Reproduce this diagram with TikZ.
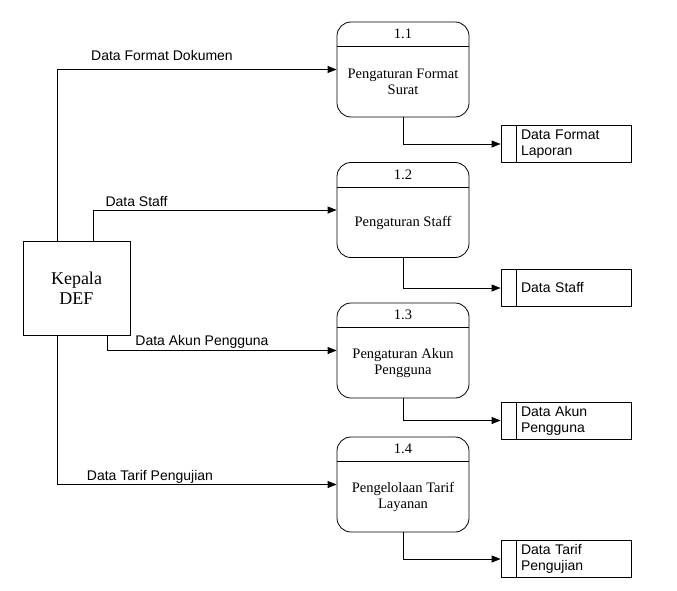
\documentclass[tikz,border=0pt]{standalone}
\usepackage{fontspec}
\setmainfont{Liberation Serif}
\setsansfont{Liberation Sans}
\usetikzlibrary{arrows.meta, positioning}
\tikzstyle{process} = [
    rectangle,
    rounded corners=14pt,
    minimum width=132pt,
    minimum height=95pt,
    line width=0.8pt,
    draw=black
]
\tikzstyle{entity} = [
    rectangle,
    minimum width=107pt,
    minimum height=94pt,
    align=center,
    font=\fontsize{18}{20}\selectfont,
    line width=0.8pt,
    draw=black
]
\tikzstyle{store} = [
    rectangle,
    minimum height=37pt,
    inner xsep=20pt,
    text width=90pt,
    align=left,
    font=\sffamily\fontsize{14}{16}\selectfont,
    line width=0.8pt,
    draw=black
]
\tikzstyle{ptext} = [align=center, font=\fontsize{14.5}{15.5}\selectfont]
\tikzstyle{flowlabel} = [font=\sffamily\fontsize{14}{16}\selectfont]
\tikzstyle{divider} = [line width=0.8pt]
\tikzstyle{arrow} = [line width=0.8pt, ->, >={Triangle[length=9pt,width=7pt]}]

\begin{document}
\begin{tikzpicture}[x=1pt, y=-1pt]
\useasboundingbox (0,0) rectangle (677,591);

\node (kepala) [entity] at (76.5,288) {Kepala\\DEF};

% processes
\node (p1) [process] at (403,69.5) {};
\node (p2) [process] at (403,210) {};
\node (p3) [process] at (403,350.5) {};
\node (p4) [process] at (403,484.5) {};

\draw [divider] ([yshift=-25pt]p1.north west) -- ([yshift=-25pt]p1.north east);
\draw [divider] ([yshift=-25pt]p2.north west) -- ([yshift=-25pt]p2.north east);
\draw [divider] ([yshift=-25pt]p3.north west) -- ([yshift=-25pt]p3.north east);
\draw [divider] ([yshift=-25pt]p4.north west) -- ([yshift=-25pt]p4.north east);

\node (n1) [ptext] at ([yshift=-12.5pt]p1.north) {1.1};
\node (n2) [ptext] at ([yshift=-12.5pt]p2.north) {1.2};
\node (n3) [ptext] at ([yshift=-12.5pt]p3.north) {1.3};
\node (n4) [ptext] at ([yshift=-12.5pt]p4.north) {1.4};

\node (t1) [ptext] at ([yshift=-12.5pt]p1.center) {Pengaturan Format\\Surat};
\node (t2) [ptext] at ([yshift=-12.5pt]p2.center) {Pengaturan Staff};
\node (t3) [ptext] at ([yshift=-12.5pt]p3.center) {Pengaturan Akun\\Pengguna};
\node (t4) [ptext] at ([yshift=-12.5pt]p4.center) {Pengelolaan Tarif\\Layanan};

% data stores
\node (s1) [store] at (566,144) {Data Format\\Laporan};
\node (s2) [store] at (566,288) {Data Staff};
\node (s3) [store] at (566,420.5) {Data Akun\\Pengguna};
\node (s4) [store] at (566,559) {Data Tarif\\Pengujian};

\draw [divider] ([xshift=16pt]s1.north west) -- ([xshift=16pt]s1.south west);
\draw [divider] ([xshift=16pt]s2.north west) -- ([xshift=16pt]s2.south west);
\draw [divider] ([xshift=16pt]s3.north west) -- ([xshift=16pt]s3.south west);
\draw [divider] ([xshift=16pt]s4.north west) -- ([xshift=16pt]s4.south west);

% flows from Kepala DEF
\draw [arrow] ([xshift=-19.5pt]kepala.north) |- (p1.west);
\draw [arrow] ([xshift=16.5pt]kepala.north) |- (p2.west);
\draw [arrow] ([xshift=30.5pt]kepala.south) |- (p3.west);
\draw [arrow] ([xshift=-19.5pt]kepala.south) |- (p4.west);

\node (l1) [flowlabel] at (162,55) {Data Format Dokumen};
\node (l2) [flowlabel] at (136.5,202) {Data Staff};
\node (l3) [flowlabel] at (202,342) {Data Akun Pengguna};
\node (l4) [flowlabel] at (150,477) {Data Tarif Pengujian};

% flows to stores
\draw [arrow] (p1.south) |- (s1.west);
\draw [arrow] (p2.south) |- (s2.west);
\draw [arrow] (p3.south) |- (s3.west);
\draw [arrow] (p4.south) |- (s4.west);

\end{tikzpicture}
\end{document}
